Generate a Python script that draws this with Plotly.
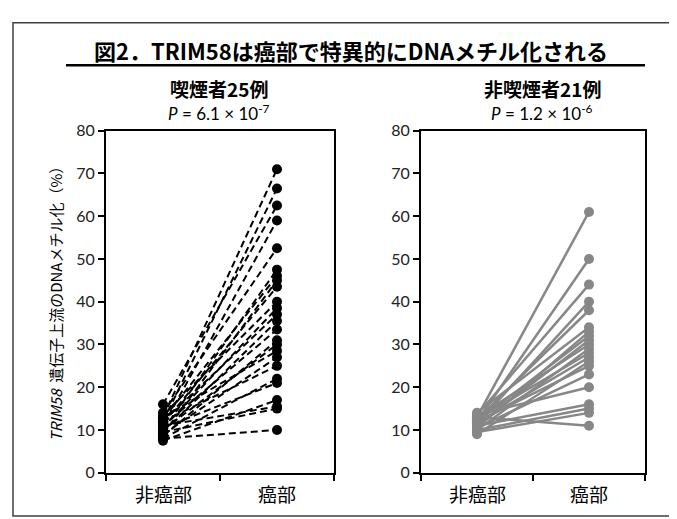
import plotly.graph_objects as go

W, H = 677, 519

categories = ["非癌部", "癌部"]
panel_titles = ["喫煙者25例", "非喫煙者21例"]
p_mantissa = ["6.1", "1.2"]
p_exponent = ["-7", "-6"]
y_ticks = [0, 10, 20, 30, 40, 50, 60, 70, 80]

smoker_normal = [13, 12, 16, 11, 14, 10, 12.5, 9, 11.5, 13.5, 10.5, 12, 9.5, 11,
                 8.5, 10, 13, 9, 12, 8, 10.5, 7.5, 11, 9.5, 8]
smoker_cancer = [71, 66.5, 62.5, 59, 52.5, 47.5, 46, 45, 43.5, 40, 38.5, 37, 35.5,
                 33.5, 31, 30, 28.5, 27, 25, 22, 21, 17, 15.5, 15, 10]

nonsmoker_normal = [13, 12, 13.5, 11.5, 12.5, 14, 10.5, 12, 11, 13, 10, 12.5, 11.5,
                    9, 12, 10.5, 13.5, 11, 10, 9.5, 13]
nonsmoker_cancer = [61, 50, 44, 40, 38, 34, 33, 32, 31, 30, 29, 28, 27, 26, 25, 23,
                    20, 16, 15, 14, 11]


def px_x(v):
    return v / W


def px_y(v):
    return 1 - v / H


def pairs(normal, cancer):
    xs, ys = [], []
    for a, b in zip(normal, cancer):
        xs += [0.5, 1.5, None]
        ys += [a, b, None]
    return xs, ys


fig = go.Figure()

# Left panel (smokers): dashed black
lx, ly = pairs(smoker_normal, smoker_cancer)
fig.add_trace(go.Scatter(x=lx, y=ly, mode="lines", xaxis="x", yaxis="y",
                         line=dict(color="black", width=2, dash="7px,4px"),
                         hoverinfo="skip", showlegend=False))
fig.add_trace(go.Scatter(x=[0.5] * len(smoker_normal) + [1.5] * len(smoker_cancer),
                         y=smoker_normal + smoker_cancer, mode="markers",
                         xaxis="x", yaxis="y",
                         marker=dict(color="black", size=10),
                         showlegend=False))

# Right panel (non-smokers): solid gray
rx, ry = pairs(nonsmoker_normal, nonsmoker_cancer)
fig.add_trace(go.Scatter(x=rx, y=ry, mode="lines", xaxis="x2", yaxis="y2",
                         line=dict(color="#878787", width=2.5),
                         hoverinfo="skip", showlegend=False))
fig.add_trace(go.Scatter(x=[0.5] * len(nonsmoker_normal) + [1.5] * len(nonsmoker_cancer),
                         y=nonsmoker_normal + nonsmoker_cancer, mode="markers",
                         xaxis="x2", yaxis="y2",
                         marker=dict(color="#878787", size=10),
                         showlegend=False))

tick_font = dict(family="Lato, 'Liberation Sans', sans-serif", size=16, color="#222")
ydom = [1 - 472 / H, 1 - 117 / H]
xdom1 = [98 / W, 326 / W]
xdom2 = [413 / W, 637 / W]

xcommon = dict(range=[0, 2], tickvals=[0, 1, 2], showticklabels=False,
               ticks="outside", ticklen=6, tickwidth=1.5, tickcolor="black",
               showline=True, linecolor="black", linewidth=1.8, mirror=True,
               showgrid=False, zeroline=False, fixedrange=True)
ycommon = dict(range=[0, 80], tickvals=y_ticks, ticks="outside", ticklen=6,
               tickwidth=1.5, tickcolor="black", showline=True, linecolor="black",
               linewidth=1.8, mirror=True, showgrid=False, zeroline=False,
               tickfont=tick_font, domain=ydom, fixedrange=True)

fig.update_layout(
    width=W, height=H,
    margin=dict(l=0, r=0, t=0, b=0),
    paper_bgcolor="white", plot_bgcolor="white",
    xaxis=dict(domain=xdom1, anchor="y", **xcommon),
    yaxis=dict(anchor="x", **ycommon),
    xaxis2=dict(domain=xdom2, anchor="y2", **xcommon),
    yaxis2=dict(anchor="x2", **ycommon),
)

cjk = "'Noto Sans CJK JP', sans-serif"
ann = []
ann.append(dict(text="<b>図2．TRIM58は癌部で特異的にDNAメチル化される</b>",
                x=px_x(343), y=px_y(33), xref="paper", yref="paper",
                showarrow=False, font=dict(family=cjk, size=22, color="black"),
                xanchor="center", yanchor="middle"))
centers = [211, 534]
for i, c in enumerate(centers):
    ann.append(dict(text="<b>" + panel_titles[i] + "</b>", x=px_x(c), y=px_y(73),
                    xref="paper", yref="paper", showarrow=False,
                    font=dict(family=cjk, size=19, color="black"),
                    xanchor="center", yanchor="middle"))
    ann.append(dict(text="<i>P</i> = " + p_mantissa[i] + " × 10<sup>" + p_exponent[i] + "</sup>",
                    x=px_x(c), y=px_y(98), xref="paper", yref="paper", showarrow=False,
                    font=dict(family="Lato, sans-serif", size=17, color="black"),
                    xanchor="center", yanchor="middle"))
for xa in ["x", "x2"]:
    for j, cat in enumerate(categories):
        ann.append(dict(text=cat, x=0.5 + j, y=px_y(494), xref=xa, yref="paper",
                        showarrow=False, font=dict(family=cjk, size=19, color="black"),
                        xanchor="center", yanchor="middle"))
ann.append(dict(text="<i>TRIM58</i>  遺伝子上流のDNAメチル化（%）",
                x=px_x(47), y=px_y(293), xref="paper", yref="paper", showarrow=False,
                textangle=-90, font=dict(family=cjk, size=15, color="black"),
                xanchor="center", yanchor="middle"))
fig.update_layout(annotations=ann)

fig.update_layout(shapes=[
    dict(type="line", xref="paper", yref="paper", x0=px_x(58), x1=px_x(637),
         y0=px_y(49), y1=px_y(49), line=dict(color="black", width=2.5)),
    dict(type="rect", xref="paper", yref="paper", x0=px_x(5), x1=px_x(668),
         y0=px_y(517), y1=px_y(5), line=dict(color="#404040", width=1.5)),
])

fig.write_html("out.html")
